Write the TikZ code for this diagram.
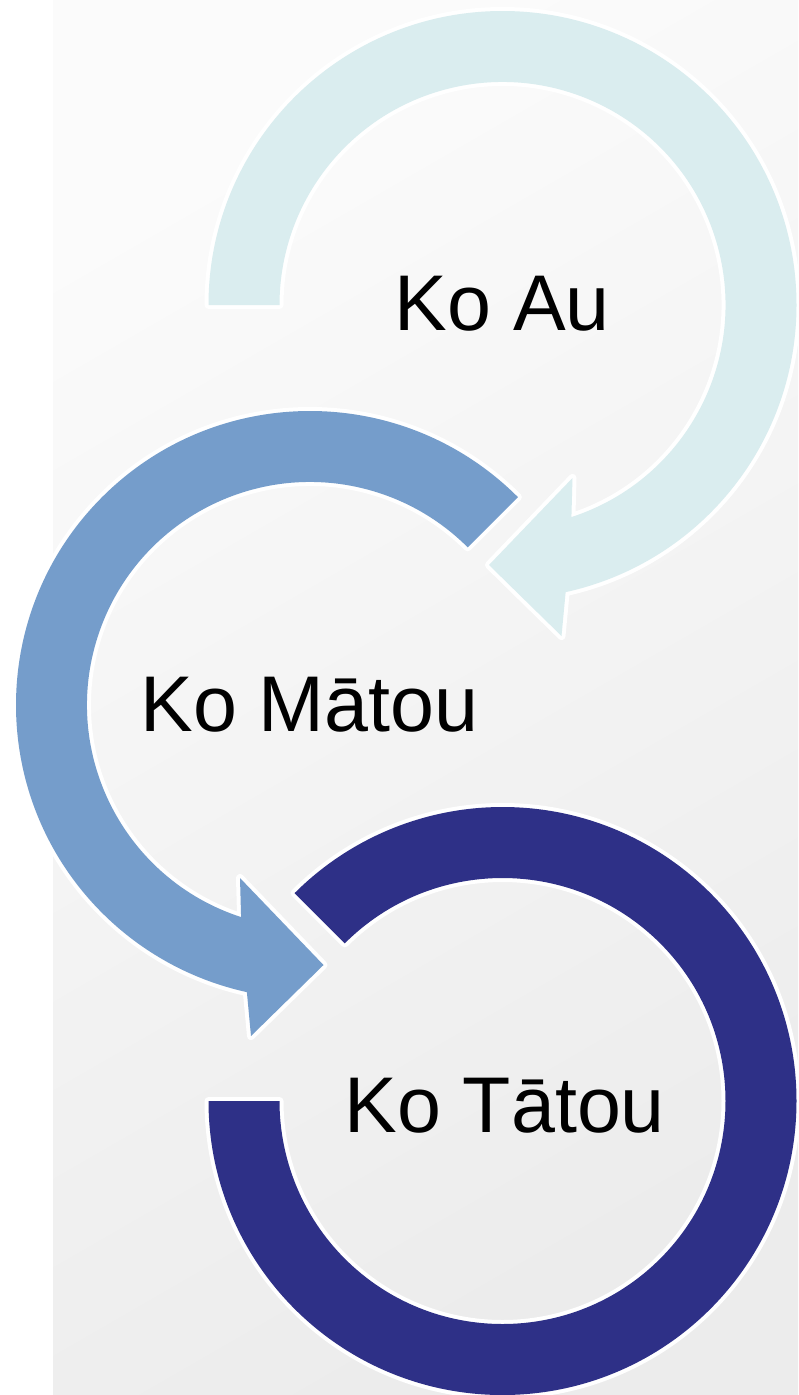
\documentclass[tikz,border=0pt]{standalone}
\usepackage{fontspec}
\setmainfont{Liberation Sans}
\usetikzlibrary{calc}
\definecolor{bgA}{HTML}{FBFBFB}
\definecolor{bgB}{HTML}{ECECEC}
\definecolor{auC}{HTML}{DAEDEF}
\definecolor{matouC}{HTML}{759DCB}
\definecolor{tatouC}{HTML}{2E3087}
\begin{document}
\begin{tikzpicture}[x=1pt,y=1pt,
  band/.style={preaction={draw=white,line width=8pt,line join=round}},
  lbl/.style={anchor=base,font=\fontsize{79}{90}\selectfont,text=black,inner sep=0pt}]
\useasboundingbox (0,0) rectangle (798,-1395);
\fill[white] (0,0) rectangle (798,-1395);
\shade[top color=bgA,bottom color=bgB,shading angle=30] (53,0) rectangle (798,-1395);

\coordinate (c1) at (502.5,-305);
\coordinate (c2) at (310,-705);
\coordinate (c3) at (502.5,-1101);

% Ko Au arrow
\path[fill=auC,band] ($(c1)+(180:294)$) arc[start angle=180,end angle=-77.6,radius=294]
  -- ($(c1)+(59,-331)$) -- ($(c1)+(-13.5,-260)$) -- ($(c1)+(70,-173)$) -- ($(c1)+(-72:223)$)
  arc[start angle=-72,end angle=180,radius=223] -- cycle;

% Ko Matou arrow
\path[fill=matouC,band] ($(c2)+(45:294)$) arc[start angle=45,end angle=257.6,radius=294]
  -- ($(c2)+(-59,-331)$) -- ($(c2)+(13.5,-260)$) -- ($(c2)+(-70,-173)$) -- ($(c2)+(252:223)$)
  arc[start angle=252,end angle=45,radius=223] -- cycle;

% Ko Tatou ring
\path[fill=tatouC,band] ($(c3)+(180:294)$) arc[start angle=180,end angle=495,radius=294]
  -- ($(c3)+(135:223)$) arc[start angle=135,end angle=-180,radius=223] -- cycle;

\node[lbl] (au) at (502.2,-330) {Ko Au};
\node[lbl] (matou) at (309.5,-731) {Ko Mātou};
\node[lbl] (tatou) at (504.7,-1132.3) {Ko Tātou};
\end{tikzpicture}
\end{document}
